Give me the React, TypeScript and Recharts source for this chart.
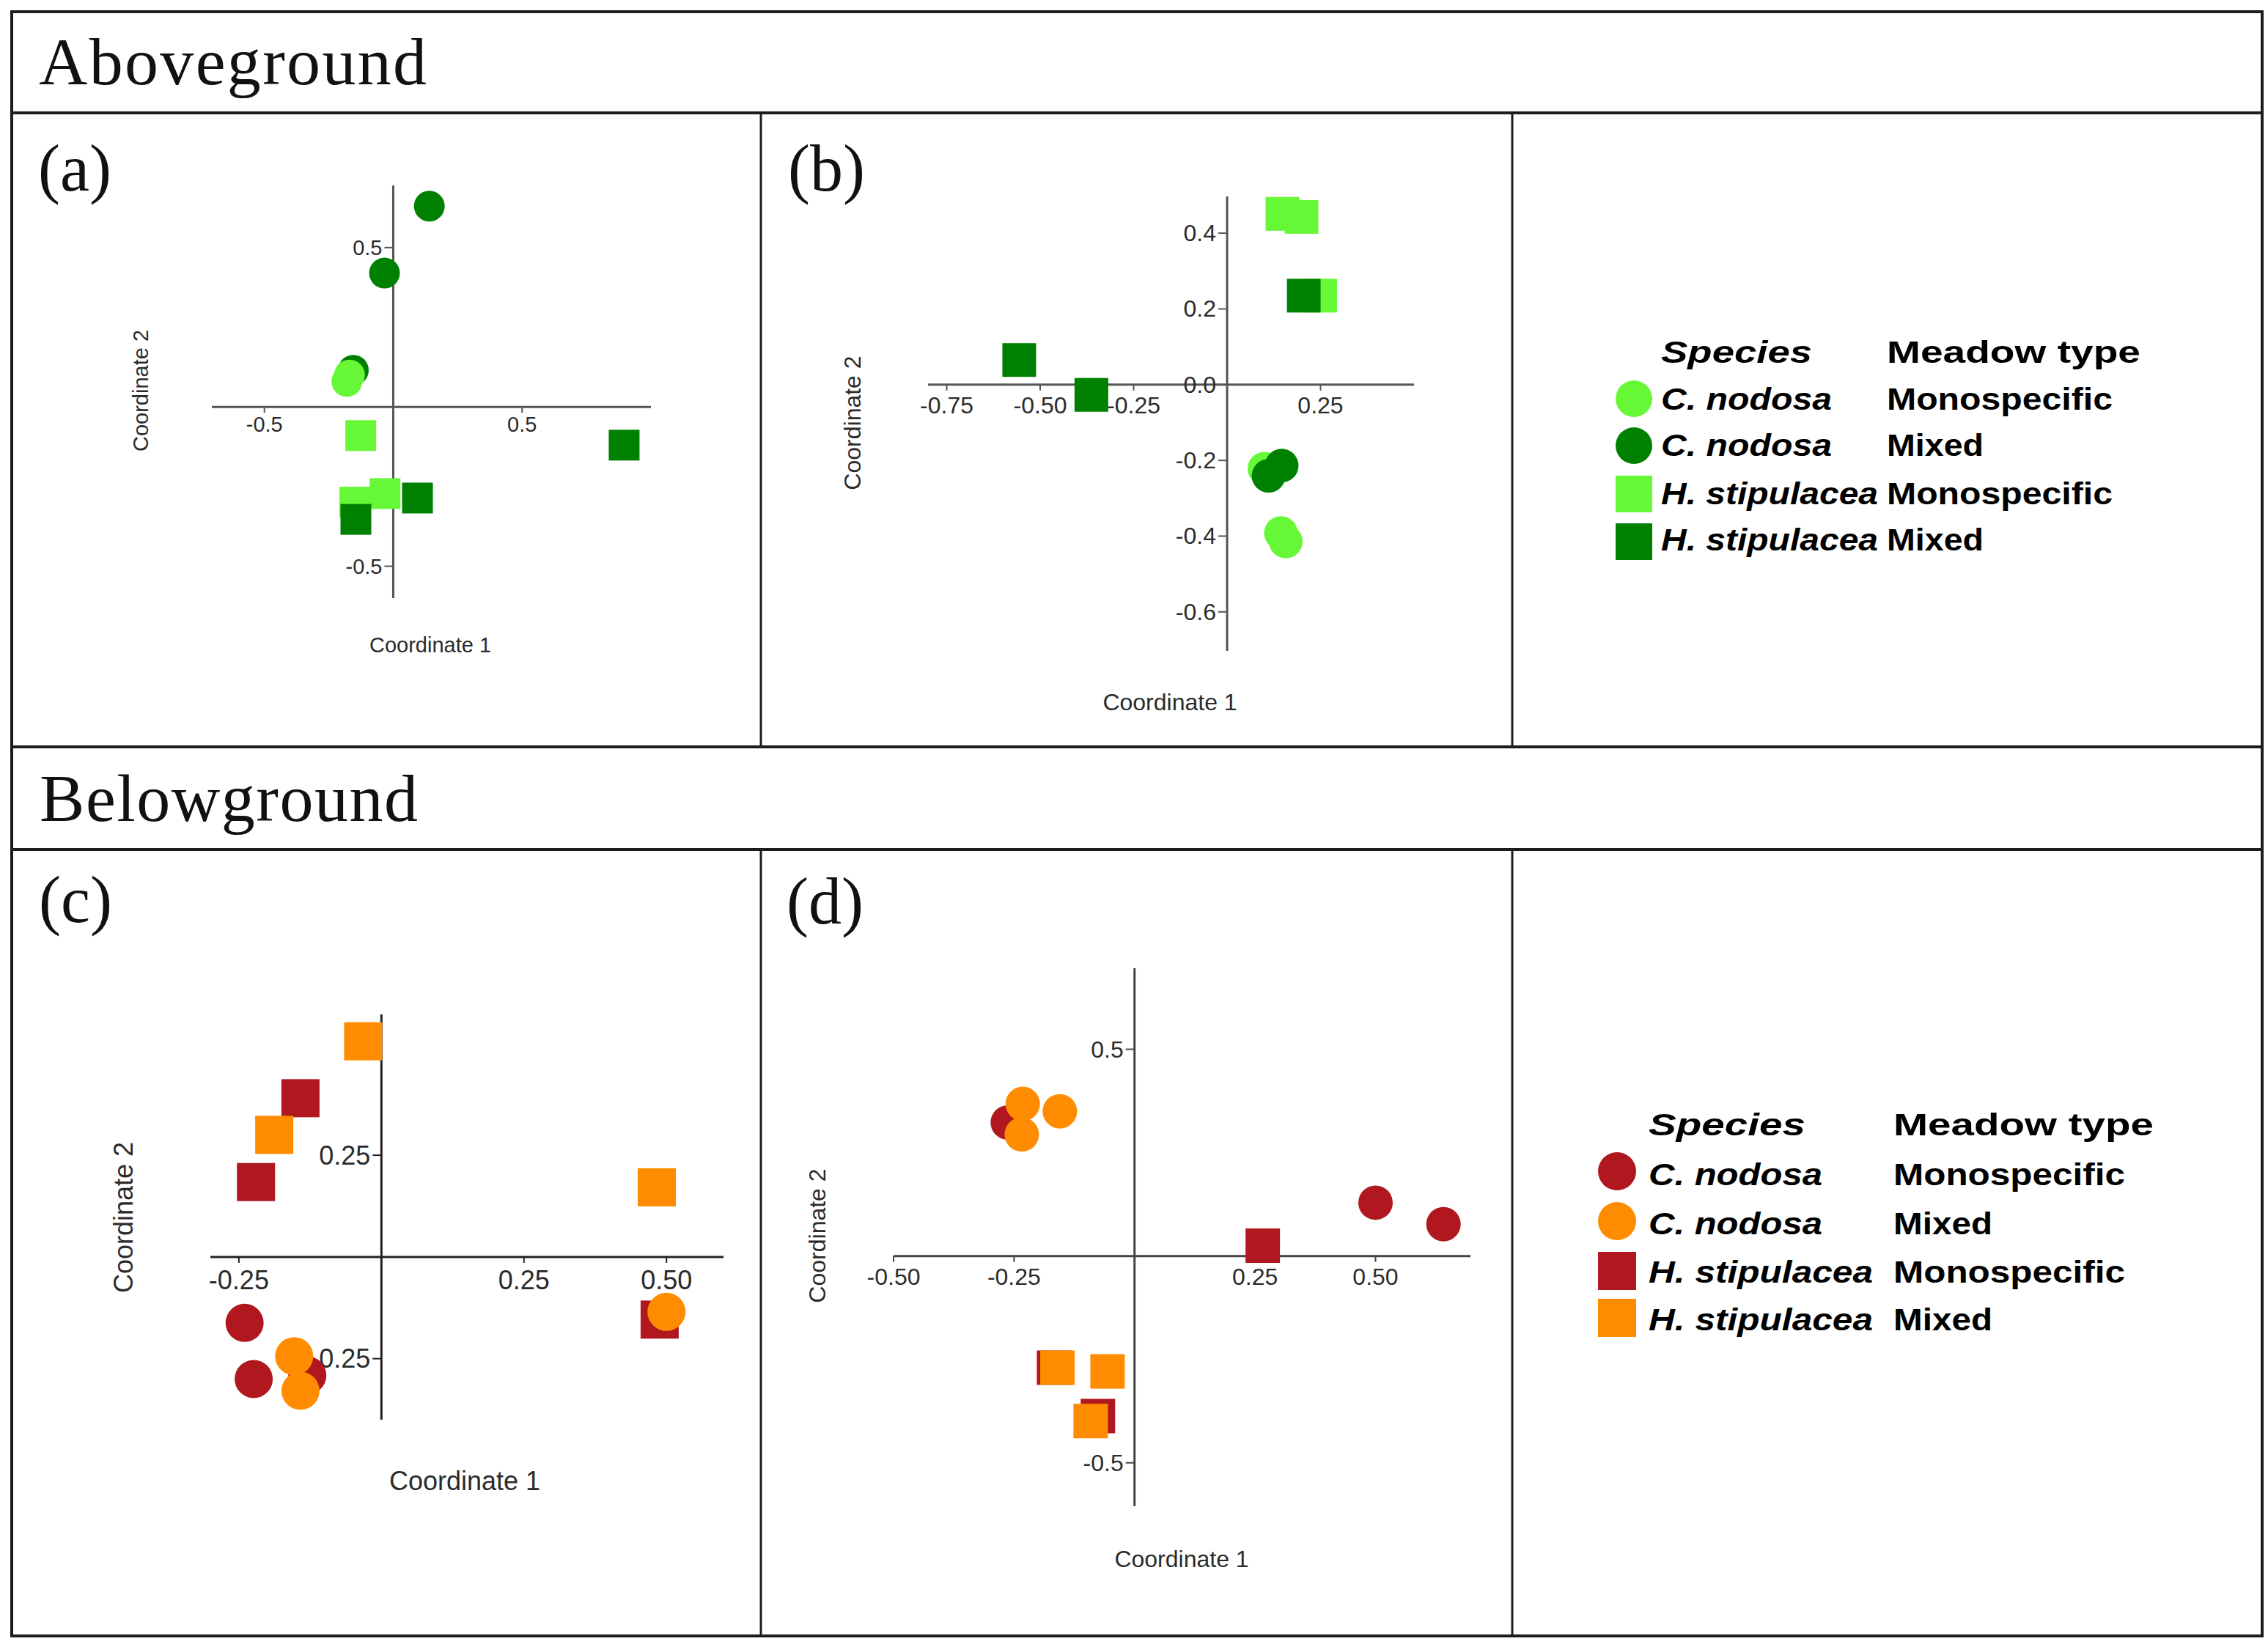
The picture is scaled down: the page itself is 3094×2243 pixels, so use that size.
import React from "react";
import {
  ScatterChart,
  Scatter,
  XAxis,
  YAxis,
  ReferenceLine,
  ReferenceDot,
} from "recharts";

// legend groups: 0 = C. nodosa monospecific, 1 = C. nodosa mixed,
// 2 = H. stipulacea monospecific, 3 = H. stipulacea mixed
const SPECIES = ["C. nodosa", "C. nodosa", "H. stipulacea", "H. stipulacea"];
const MEADOW = ["Monospecific", "Mixed", "Monospecific", "Mixed"];
const GREENS = ["#66f836", "#008000", "#66f836", "#008000"];
const REDS = ["#b0171f", "#ff8c00", "#b0171f", "#ff8c00"];

// [coordinate 1, coordinate 2, group], in drawing order
const ABOVE_A: [number, number, number][] = [
  [0.14, 0.63, 1],
  [-0.034, 0.42, 1],
  [-0.155, 0.115, 1],
  [-0.17, 0.1, 0],
  [-0.18, 0.08, 0],
  [-0.126, -0.09, 2],
  [-0.149, -0.299, 2],
  [-0.032, -0.272, 2],
  [0.094, -0.286, 3],
  [-0.145, -0.353, 3],
  [0.896, -0.12, 3],
];

const ABOVE_B: [number, number, number][] = [
  [0.148, 0.451, 2],
  [0.199, 0.443, 2],
  [0.249, 0.235, 2],
  [0.205, 0.235, 3],
  [-0.556, 0.065, 3],
  [-0.363, -0.027, 3],
  [0.1, -0.222, 0],
  [0.111, -0.241, 1],
  [0.146, -0.214, 1],
  [0.144, -0.392, 0],
  [0.157, -0.414, 0],
];

const BELOW_C: [number, number, number][] = [
  [-0.032, 0.53, 3],
  [-0.142, 0.39, 2],
  [-0.188, 0.3, 3],
  [-0.22, 0.184, 2],
  [0.483, 0.171, 3],
  [0.488, -0.154, 2],
  [0.5, -0.135, 1],
  [-0.24, -0.162, 0],
  [-0.224, -0.3, 0],
  [-0.13, -0.291, 0],
  [-0.153, -0.244, 1],
  [-0.142, -0.329, 1],
];

const BELOW_D: [number, number, number][] = [
  [-0.263, 0.323, 0],
  [-0.232, 0.368, 1],
  [-0.155, 0.35, 1],
  [-0.234, 0.294, 1],
  [0.5, 0.129, 0],
  [0.641, 0.077, 0],
  [0.266, 0.025, 2],
  [-0.167, -0.27, 2],
  [-0.16, -0.27, 3],
  [-0.056, -0.279, 3],
  [-0.076, -0.387, 2],
  [-0.091, -0.399, 3],
];

// tick labels
const A_XTICKS = ["-0.5", "0.5"];
const A_YTICKS = ["0.5", "-0.5"];
const B_XTICKS = ["-0.75", "-0.50", "-0.25", "0.25"];
const B_YTICKS = ["0.4", "0.2", "0.0", "-0.2", "-0.4", "-0.6"];
const C_XTICKS = ["-0.25", "0.25", "0.50"];
const C_YTICKS = ["0.25", "-0.25"];
const D_XTICKS = ["-0.50", "-0.25", "0.25", "0.50"];
const D_YTICKS = ["0.5", "-0.5"];

const SANS = "'Liberation Sans', Arial, sans-serif";
const SERIF = "'Liberation Serif', 'Times New Roman', serif";

type Panel = {
  id: string;
  points: [number, number, number][];
  colors: string[];
  xTicks: string[];
  yTicks: string[];
  left: number;
  top: number;
  width: number;
  height: number;
  margin: { top: number; right: number; bottom: number; left: number };
  xDomain: [number, number];
  yDomain: [number, number];
  size: number;
  font: number;
  xLabelGap: number;
  axis: string;
  title1: [number, number];
  title2: [number, number];
};

const PANELS: Panel[] = [
  {
    id: "a",
    points: ABOVE_A,
    colors: GREENS,
    xTicks: A_XTICKS,
    yTicks: A_YTICKS,
    left: 16,
    top: 154,
    width: 1022,
    height: 865,
    margin: { top: 99, right: 150, bottom: 203, left: 273 },
    xDomain: [-0.704, 1.0],
    yDomain: [-0.6, 0.695],
    size: 42,
    font: 29,
    xLabelGap: 24,
    axis: "#555",
    title1: [587, 880],
    title2: [192, 533],
  },
  {
    id: "b",
    points: ABOVE_B,
    colors: GREENS,
    xTicks: B_XTICKS,
    yTicks: B_YTICKS,
    left: 1038,
    top: 154,
    width: 1025,
    height: 865,
    margin: { top: 114, right: 134, bottom: 131, left: 228 },
    xDomain: [-0.8, 0.5],
    yDomain: [-0.703, 0.497],
    size: 46,
    font: 32,
    xLabelGap: 28,
    axis: "#555",
    title1: [1596, 958],
    title2: [1163, 577],
  },
  {
    id: "c",
    points: BELOW_C,
    colors: REDS,
    xTicks: C_XTICKS,
    yTicks: C_YTICKS,
    left: 16,
    top: 1159,
    width: 1022,
    height: 1073,
    margin: { top: 225, right: 51, bottom: 295, left: 271 },
    xDomain: [-0.3, 0.6],
    yDomain: [-0.4, 0.596],
    size: 52,
    font: 36,
    xLabelGap: 32,
    axis: "#222",
    title1: [634, 2020],
    title2: [168, 1661],
  },
  {
    id: "d",
    points: BELOW_D,
    colors: REDS,
    xTicks: D_XTICKS,
    yTicks: D_YTICKS,
    left: 1038,
    top: 1159,
    width: 1025,
    height: 1073,
    margin: { top: 162, right: 57, bottom: 177, left: 181 },
    xDomain: [-0.5, 0.697],
    yDomain: [-0.605, 0.696],
    size: 47,
    font: 32,
    xLabelGap: 28,
    axis: "#444",
    title1: [1612, 2127],
    title2: [1115, 1686],
  },
];

const LEGENDS = [
  {
    colors: GREENS,
    speciesX: 2266,
    meadowX: 2574,
    headerY: 495,
    rowsY: [559, 622, 688, 751],
    markerX: 2229,
    markerY: [544, 608, 674, 739],
    size: 50,
    len: { head: [206, 346], species: [233, 233, 296, 296], meadow: [308, 132, 308, 132] },
  },
  {
    colors: REDS,
    speciesX: 2249,
    meadowX: 2583,
    headerY: 1549,
    rowsY: [1617, 1684, 1750, 1815],
    markerX: 2206,
    markerY: [1598, 1666, 1734, 1798],
    size: 52,
    len: { head: [214, 355], species: [237, 237, 306, 306], meadow: [316, 135, 316, 135] },
  },
];

function markerShape(size: number, colors: string[]) {
  return (props: any) => {
    const { cx, cy, payload } = props;
    const g = payload.g;
    if (g < 2) {
      return <circle cx={cx} cy={cy} r={size / 2} fill={colors[g]} />;
    }
    return (
      <rect x={cx - size / 2} y={cy - size / 2} width={size} height={size} fill={colors[g]} />
    );
  };
}

function PanelChart({ p }: { p: Panel }) {
  const data = p.points.map(([x, y, g]) => ({ x, y, g }));
  return (
    <div style={{ position: "absolute", left: p.left, top: p.top }}>
      <ScatterChart width={p.width} height={p.height} margin={p.margin}>
        <XAxis type="number" dataKey="x" domain={p.xDomain} allowDataOverflow hide />
        <YAxis type="number" dataKey="y" domain={p.yDomain} allowDataOverflow hide />
        <ReferenceLine y={0} stroke={p.axis} strokeWidth={3} zIndex={100} />
        <ReferenceLine x={0} stroke={p.axis} strokeWidth={3} zIndex={100} />
        {p.xTicks.map((t) => (
          <ReferenceDot
            key={"x" + t}
            x={parseFloat(t)}
            y={0}
            r={0}
            zIndex={200}
            shape={(d: any) => (
              <g>
                <line x1={d.cx} y1={d.cy} x2={d.cx} y2={d.cy + 8} stroke={p.axis} strokeWidth={2} />
                <text
                  x={d.cx}
                  y={d.cy + p.xLabelGap}
                  textAnchor="middle"
                  dominantBaseline="central"
                  fontFamily={SANS}
                  fontSize={p.font}
                  fill="#2b2b2b"
                >
                  {t}
                </text>
              </g>
            )}
          />
        ))}
        {p.yTicks.map((t) => (
          <ReferenceDot
            key={"y" + t}
            x={0}
            y={parseFloat(t)}
            r={0}
            zIndex={200}
            shape={(d: any) => (
              <g>
                <line x1={d.cx - 12} y1={d.cy} x2={d.cx} y2={d.cy} stroke={p.axis} strokeWidth={2} />
                <text
                  x={d.cx - 15}
                  y={d.cy}
                  textAnchor="end"
                  dominantBaseline="central"
                  fontFamily={SANS}
                  fontSize={p.font}
                  fill="#2b2b2b"
                >
                  {t}
                </text>
              </g>
            )}
          />
        ))}
        <Scatter
          data={data}
          shape={markerShape(p.size, p.colors)}
          isAnimationActive={false}
        />
      </ScatterChart>
    </div>
  );
}

function Overlay() {
  const line = { stroke: "#1c1c1c", strokeWidth: 4 };
  return (
    <svg
      width={3094}
      height={2243}
      style={{ position: "absolute", left: 0, top: 0, pointerEvents: "none" }}
    >
      <rect x={16} y={16} width={3070} height={2216} fill="none" {...line} />
      <line x1={16} y1={154} x2={3086} y2={154} {...line} />
      <line x1={16} y1={1019} x2={3086} y2={1019} {...line} />
      <line x1={16} y1={1159} x2={3086} y2={1159} {...line} />
      {[1038, 2063].map((x) => (
        <g key={x}>
          <line x1={x} y1={154} x2={x} y2={1019} stroke="#1c1c1c" strokeWidth={3} />
          <line x1={x} y1={1159} x2={x} y2={2232} stroke="#1c1c1c" strokeWidth={3} />
        </g>
      ))}

      <text x={53} y={115} fontFamily={SERIF} fontSize={92} textLength={529} fill="#111">
        Aboveground
      </text>
      <text x={54} y={1120} fontFamily={SERIF} fontSize={92} textLength={516} fill="#111">
        Belowground
      </text>
      <text x={52} y={260} fontFamily={SERIF} fontSize={90} fill="#111">(a)</text>
      <text x={1075} y={260} fontFamily={SERIF} fontSize={90} fill="#111">(b)</text>
      <text x={53} y={1258} fontFamily={SERIF} fontSize={90} fill="#111">(c)</text>
      <text x={1073} y={1260} fontFamily={SERIF} fontSize={90} fill="#111">(d)</text>

      {PANELS.map((p) => (
        <g key={p.id} fontFamily={SANS} fontSize={p.font} fill="#2b2b2b">
          <text x={p.title1[0]} y={p.title1[1]} textAnchor="middle" dominantBaseline="central">
            Coordinate 1
          </text>
          <text
            x={p.title2[0]}
            y={p.title2[1]}
            textAnchor="middle"
            dominantBaseline="central"
            transform={`rotate(-90 ${p.title2[0]} ${p.title2[1]})`}
          >
            Coordinate 2
          </text>
        </g>
      ))}

      {LEGENDS.map((l, i) => (
        <g key={i} fontFamily={SANS} fontWeight="bold" fontSize={43} fill="#000">
          <text x={l.speciesX} y={l.headerY} fontStyle="italic" textLength={l.len.head[0]} lengthAdjust="spacingAndGlyphs">
            Species
          </text>
          <text x={l.meadowX} y={l.headerY} textLength={l.len.head[1]} lengthAdjust="spacingAndGlyphs">
            Meadow type
          </text>
          {SPECIES.map((s, k) => (
            <g key={k}>
              {k < 2 ? (
                <circle cx={l.markerX} cy={l.markerY[k]} r={l.size / 2} fill={l.colors[k]} />
              ) : (
                <rect
                  x={l.markerX - l.size / 2}
                  y={l.markerY[k] - l.size / 2}
                  width={l.size}
                  height={l.size}
                  fill={l.colors[k]}
                />
              )}
              <text x={l.speciesX} y={l.rowsY[k]} textLength={l.len.species[k]} lengthAdjust="spacingAndGlyphs">
                <tspan fontStyle="italic">{s}</tspan>
              </text>
              <text x={l.meadowX} y={l.rowsY[k]} textLength={l.len.meadow[k]} lengthAdjust="spacingAndGlyphs">
                {MEADOW[k]}
              </text>
            </g>
          ))}
        </g>
      ))}
    </svg>
  );
}

export default function App() {
  return (
    <div style={{ position: "relative", width: 3094, height: 2243, background: "#fff" }}>
      <style>{`body{margin:0}`}</style>
      {PANELS.map((p) => (
        <PanelChart key={p.id} p={p} />
      ))}
      <Overlay />
    </div>
  );
}
